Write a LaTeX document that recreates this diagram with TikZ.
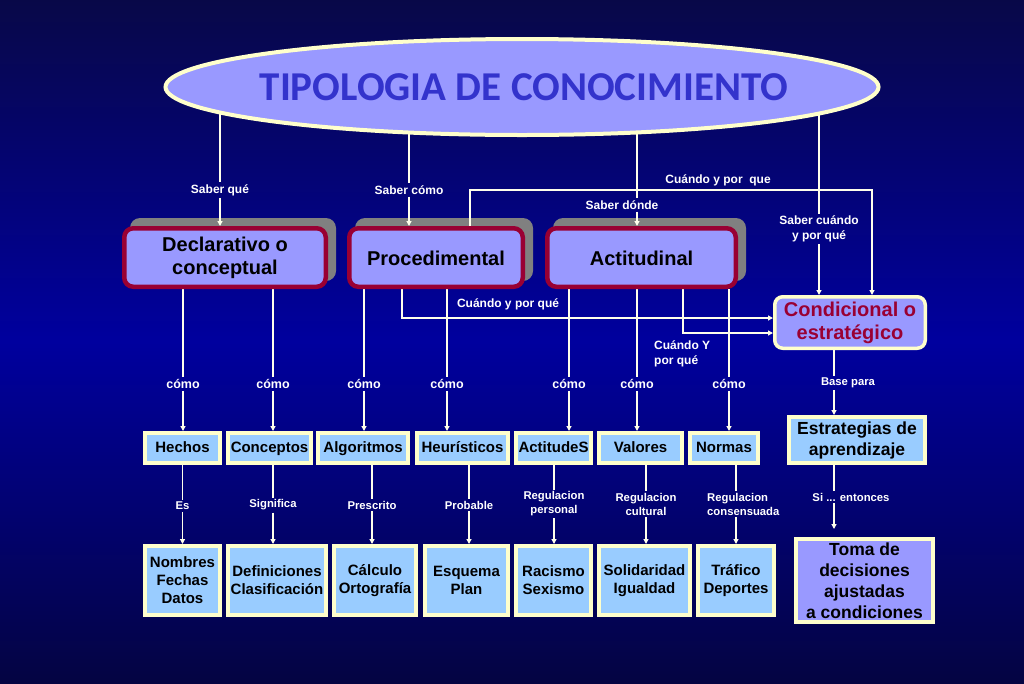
\documentclass[tikz,border=0pt]{standalone}
\usepackage{fontspec}
\setmainfont{Liberation Sans}
\newfontfamily\titlefont{Carlito}
\usetikzlibrary{shapes.geometric,arrows.meta}
\definecolor{lav}{RGB}{153,153,255}
\definecolor{lblue}{RGB}{153,204,255}
\definecolor{cream}{RGB}{255,255,204}
\definecolor{crim}{RGB}{153,0,51}
\definecolor{shgray}{RGB}{128,128,128}
\definecolor{bgtop}{RGB}{8,8,72}
\definecolor{bgmid}{RGB}{0,0,158}
\definecolor{bgbot}{RGB}{4,4,66}
\definecolor{titleblue}{RGB}{51,51,204}
\definecolor{linec}{RGB}{255,255,235}
\pgfdeclarelayer{bglayer}
\pgfdeclarelayer{shadowlayer}
\pgfdeclarelayer{connlayer}
\pgfsetlayers{bglayer,shadowlayer,connlayer,main}
\begin{document}
\begin{tikzpicture}[x=1pt,y=-1pt,
  mainbox/.style={rectangle,rounded corners=9pt,fill=lav,draw=crim,line width=4.5pt,align=center,
    font=\bfseries\fontsize{20}{23}\selectfont,inner sep=0pt,minimum height=58.5pt},
  oneline/.style={text height=17pt,text depth=2pt},
  condbox/.style={rectangle,rounded corners=8pt,fill=lav,draw=cream,line width=3.5pt,align=center,text=crim,
    font=\bfseries\fontsize{20}{23}\selectfont,inner sep=0pt,minimum width=150.5pt,minimum height=51.5pt},
  rowbox/.style={rectangle,fill=lblue,draw=cream,line width=4pt,align=center,inner sep=0pt,
    font=\bfseries\fontsize{15}{18}\selectfont,minimum height=30pt},
  rowone/.style={rowbox,text height=11pt,text depth=3pt},
  lowbox/.style={rowbox,minimum height=69pt},
  toplab/.style={text=white,align=center,inner sep=2pt,font=\bfseries\fontsize{12}{15}\selectfont},
  comolab/.style={text=white,inner sep=2pt,font=\bfseries\fontsize{12.5}{15}\selectfont},
  smalllab/.style={text=white,align=center,inner sep=2pt,font=\bfseries\fontsize{11.3}{14}\selectfont},
  conn/.style={draw=linec,line width=1.2pt},
  arr/.style={conn,-{Triangle[length=5pt,width=5pt]}},
  shadowbox/.style={fill=shgray,rounded corners=10pt}
]
\useasboundingbox (0,0) rectangle (1024,683);
\begin{pgfonlayer}{bglayer}
\shade[top color=bgtop,bottom color=bgbot,middle color=bgmid] (0,0) rectangle (1024,683);
\end{pgfonlayer}

% title ellipse
\node[ellipse,fill=lav,draw=cream,line width=4pt,minimum width=713pt,minimum height=96pt,inner sep=0pt] (ell) at (522,87) {};
\node[text=titleblue,font=\titlefont\bfseries\fontsize{41}{41}\selectfont] (title) at (524,87) {TIPOLOGIA DE CONOCIMIENTO};

% main boxes
\node[mainbox,minimum width=201.5pt] (decl) at (225,257.5) {Declarativo o\\conceptual};
\node[mainbox,oneline,minimum width=173.5pt] (proc) at (436,257.5) {Procedimental};
\node[mainbox,oneline,minimum width=188.5pt] (acti) at (641.5,257.5) {Actitudinal};
\node[condbox] (cond) at (850,322.5) {Condicional o\\estratégico};
\begin{pgfonlayer}{shadowlayer}
\foreach \b in {decl,proc,acti}{
  \fill[shadowbox] ([shift={(8pt,8pt)}]\b.south west) rectangle ([shift={(8pt,8pt)}]\b.north east);
}
\end{pgfonlayer}

% second row
\node[rowone,minimum width=75pt] (hech) at (182.5,448) {Hechos};
\node[rowone,minimum width=83pt] (conc) at (269.5,448) {Conceptos};
\node[rowone,minimum width=90pt] (algo) at (363,448) {Algoritmos};
\node[rowone,minimum width=91pt] (heur) at (462.5,448) {Heurísticos};
\node[rowone,minimum width=75pt] (actd) at (553.5,448) {ActitudeS};
\node[rowone,minimum width=83pt] (valo) at (640.5,448) {Valores};
\node[rowone,minimum width=68pt] (norm) at (724,448) {Normas};
\node[rowbox,minimum width=136pt,minimum height=46pt,font=\bfseries\fontsize{17.5}{21}\selectfont] (estr) at (857,440) {Estrategias de\\aprendizaje};

% third row
\node[lowbox,minimum width=75pt] (nomb) at (182.5,580.5) {Nombres\\Fechas\\Datos};
\node[lowbox,minimum width=98pt] (defi) at (277,580.5) {Definiciones\\Clasificación};
\node[lowbox,minimum width=82pt] (calc) at (375,580.5) {Cálculo\\Ortografía};
\node[lowbox,minimum width=83pt] (esqu) at (466.5,580.5) {Esquema\\Plan};
\node[lowbox,minimum width=75pt] (raci) at (553.5,580.5) {Racismo\\Sexismo};
\node[lowbox,minimum width=91pt] (soli) at (644.5,580.5) {Solidaridad\\Igualdad};
\node[lowbox,minimum width=76pt] (traf) at (736,580.5) {Tráfico\\Deportes};
\node[rowbox,fill=lav,minimum width=137pt,minimum height=83pt,font=\bfseries\fontsize{17.5}{21}\selectfont] (toma) at (864.5,580.5) {Toma de\\decisiones\\ajustadas\\a condiciones};

% top labels
\node[toplab] (sq) at (220,190) {Saber qué};
\node[toplab] (sc) at (409,190) {Saber cómo};
\node[toplab] (sd) at (622,205) {Saber dónde};
\node[toplab] (scu) at (819,229) {Saber cuándo\\y por qué};
\node[toplab] (cyq) at (718,180) {Cuándo y por~ que};
\node[toplab] (cpq) at (508,304) {Cuándo y por qué};
\node[toplab,anchor=west,align=left] (cyy) at (652,354) {Cuándo Y\\por qué};
\coordinate (sdx) at (637,205);
\coordinate (cx1) at (470,190);
\coordinate (cx2) at (872,190);
\coordinate (px) at (402,318);
\coordinate (ax) at (683,333);
\coordinate (bx) at (834,400);

% como labels
\node[comolab] (c1) at (183,384) {cómo};
\node[comolab] (c2) at (273,384) {cómo};
\node[comolab] (c3) at (364,384) {cómo};
\node[comolab] (c4) at (447,384) {cómo};
\node[comolab] (c5) at (569,384) {cómo};
\node[comolab] (c6) at (637,384) {cómo};
\node[comolab] (c7) at (729,384) {cómo};
\node[smalllab] (bp) at (848,383) {Base para};

% lower labels
\node[smalllab] (es) at (182.5,506) {Es};
\node[smalllab] (sig) at (273,505) {Significa};
\node[smalllab] (pre) at (372,505) {Prescrito};
\node[smalllab] (pro) at (469,505) {Probable};
\node[smalllab] (rp) at (554,504) {Regulacion\\personal};
\node[smalllab] (rcu) at (646,504) {Regulacion\\cultural};
\node[smalllab,anchor=west,align=left] (rco) at (705,504) {Regulacion\\consensuada};
\node[smalllab] (si) at (851,497) {Si ... entonces};

\begin{pgfonlayer}{connlayer}
% from title
\draw[conn] (ell.center -| sq) -- (sq);
\draw[arr] (sq) -- (sq |- decl.north);
\draw[conn] (ell.center -| sc) -- (sc);
\draw[arr] (sc) -- (sc |- proc.north);
\draw[conn] (ell.center -| sdx) -- (sd.north -| sdx);
\draw[arr] (sd.south -| sdx) -- (sdx |- acti.north);
\draw[conn] (ell.center -| scu) -- (scu);
\draw[arr] (scu) -- (scu |- cond.north);
% Cuando y por que
\draw[arr] (cx1 |- proc.north) -- (cx1) -- (cx2) -- (cx2 |- cond.north);
\draw[arr] (px |- proc.south) -- (px) -- (px -| cond.west);
\draw[arr] (ax |- acti.south) -- (ax) -- (ax -| cond.west);
% como
\draw[conn] (decl.south -| c1) -- (c1); \draw[arr] (c1) -- (c1 |- hech.north);
\draw[conn] (decl.south -| c2) -- (c2); \draw[arr] (c2) -- (c2 |- conc.north);
\draw[conn] (proc.south -| c3) -- (c3); \draw[arr] (c3) -- (c3 |- algo.north);
\draw[conn] (proc.south -| c4) -- (c4); \draw[arr] (c4) -- (c4 |- heur.north);
\draw[conn] (acti.south -| c5) -- (c5); \draw[arr] (c5) -- (c5 |- actd.north);
\draw[conn] (acti.south -| c6) -- (c6); \draw[arr] (c6) -- (c6 |- valo.north);
\draw[conn] (acti.south -| c7) -- (c7); \draw[arr] (c7) -- (c7 |- norm.north);
\draw[conn] (cond.south -| bx) -- (bp.north -| bx); \draw[arr] (bp.south -| bx) -- (bx |- estr.north);
% lower
\draw[conn] (hech.south -| es) -- (es); \draw[arr] (es) -- (es |- nomb.north);
\draw[conn] (conc.south -| sig) -- (sig); \draw[arr] (sig) -- (sig |- defi.north);
\draw[conn] (algo.south -| pre) -- (pre); \draw[arr] (pre) -- (pre |- calc.north);
\draw[conn] (heur.south -| pro) -- (pro); \draw[arr] (pro) -- (pro |- esqu.north);
\draw[conn] (actd.south -| rp) -- (rp); \draw[arr] (rp) -- (rp |- raci.north);
\draw[conn] (valo.south -| rcu) -- (rcu); \draw[arr] (rcu) -- (rcu |- soli.north);
\draw[conn] (norm.south -| traf) -- (rco.north -| traf); \draw[arr] (rco.south -| traf) -- (traf);
\draw[conn] (estr.south -| bx) -- (si.north -| bx); \draw[arr,shorten >=8pt] (si.south -| bx) -- (bx |- toma.north);
\end{pgfonlayer}
\end{tikzpicture}
\end{document}
